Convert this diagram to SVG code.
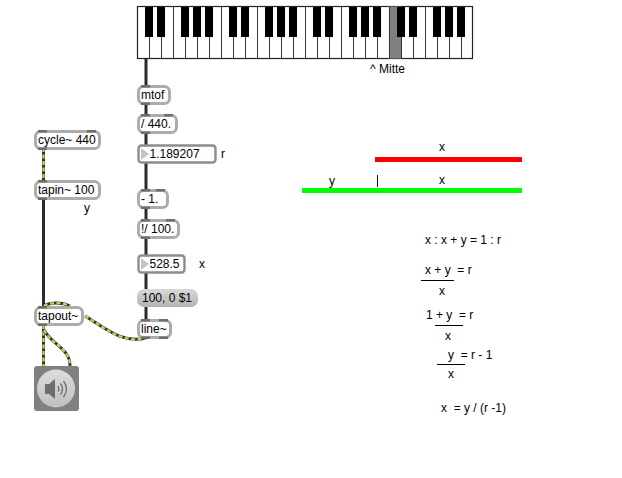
<svg xmlns="http://www.w3.org/2000/svg" width="622" height="478" viewBox="0 0 622 478">
<defs>
<style>
text{font-family:"Liberation Sans",Arial,sans-serif;font-size:12px;fill:#000;white-space:pre}
.box{fill:#fff;stroke:#acacac;stroke-width:3}
.num{fill:#fff;stroke:#8c8c8c;stroke-width:2.4}
.port{fill:#6e6e6e}
.bk{fill:#000}
.ctl{fill:none;stroke:#2b2b2b;stroke-width:3}
.sigb{fill:none;stroke:#2f3a1c;stroke-width:3}
.sigf{fill:none;stroke:#bcd86a;stroke-width:2.2;stroke-dasharray:4 2.5}
.tri{fill:#c4c4c4}
</style>
<linearGradient id="msg" x1="0" y1="0" x2="0" y2="1"><stop offset="0" stop-color="#d8d8d8"/><stop offset="1" stop-color="#b4b4b4"/></linearGradient>
<linearGradient id="disc" x1="0" y1="0" x2="0" y2="1"><stop offset="0" stop-color="#dcdcdc"/><stop offset="1" stop-color="#c0c0c0"/></linearGradient>
</defs>
<rect width="622" height="478" fill="#fff"/>
<g id="connectors">
<path class="ctl" d="M146 58V86M146 104V114M146 132V145M146 162V190M146 208V220M146 238V255M146 272V290M146 306V320"/>
<path class="ctl" d="M43.500 198V308"/>
<path class="sigb" d="M43.500 148V181"/><path class="sigf" d="M43.500 148V181"/>
<path class="sigb" d="M44 306C50 302 62 302 70 306"/><path class="sigf" d="M44 306C50 302 62 302 70 306"/>
<path class="sigb" d="M85 316C105 328 122 344 146 338"/><path class="sigf" d="M85 316C105 328 122 344 146 338"/>
<path class="sigb" d="M43.500 325V366"/><path class="sigf" d="M43.500 325V366"/>
<path class="sigb" d="M44 330C52 345 70 348 70 366"/><path class="sigf" d="M44 330C52 345 70 348 70 366"/>
</g>
<g id="keyboard">
<rect x="137.500" y="6.500" width="335" height="52" fill="#fff" stroke="#222" stroke-width="1.200"/>
<rect x="389" y="6.500" width="12" height="52" fill="#808080"/>
<path d="M149.500 37V58.500M161.500 37V58.500M173.500 7V58.500M185.500 37V58.500M197.500 37V58.500M209.500 37V58.500M221.500 7V58.500M233.500 37V58.500M245.500 37V58.500M257.500 7V58.500M269.500 37V58.500M281.500 37V58.500M293.500 37V58.500M305.500 7V58.500M317.500 37V58.500M329.500 37V58.500M341.500 7V58.500M353.500 37V58.500M365.500 37V58.500M377.500 37V58.500M389.500 7V58.500M401.500 37V58.500M413.500 37V58.500M425.500 7V58.500M437.500 37V58.500M449.500 37V58.500M461.500 37V58.500" stroke="#333" stroke-width="1" fill="none"/>
<path class="bk" d="M145 7h8v30h-8zM157 7h8v30h-8zM181 7h8v30h-8zM193 7h8v30h-8zM205 7h8v30h-8zM229 7h8v30h-8zM241 7h8v30h-8zM265 7h8v30h-8zM277 7h8v30h-8zM289 7h8v30h-8zM313 7h8v30h-8zM325 7h8v30h-8zM349 7h8v30h-8zM361 7h8v30h-8zM373 7h8v30h-8zM397 7h8v30h-8zM409 7h8v30h-8zM433 7h8v30h-8zM445 7h8v30h-8zM457 7h8v30h-8z"/>
</g>
<text x="370" y="73">^ Mitte</text>
<g id="mtof"><rect class="box" x="138.500" y="86.500" width="31" height="17" rx="5"/><path class="port" d="M141 85h9v2.500h-9zM141 102.500h9v2.500h-9z"/><text x="141" y="99">mtof</text></g>
<g id="div440"><rect class="box" x="138.500" y="115.500" width="38" height="17" rx="5"/><path class="port" d="M141 114h9v2.500h-9zM164 114h9v2.500h-9zM141 131.500h9v2.500h-9z"/><text x="141" y="128">/ 440.</text></g>
<g id="num-r"><rect class="num" x="138.500" y="145.500" width="77" height="17" rx="3"/><path class="tri" d="M141 148l8 6-8 6z"/><text x="149.500" y="158">1.189207</text></g>
<text x="221" y="158">r</text>
<g id="minus1"><rect class="box" x="138.500" y="190.500" width="29" height="17" rx="5"/><path class="port" d="M141 189h9v2.500h-9zM156 189h9v2.500h-9zM141 206.500h9v2.500h-9z"/><text x="141" y="203">- 1.</text></g>
<g id="rdiv100"><rect class="box" x="138.500" y="220.500" width="40" height="17" rx="5"/><path class="port" d="M141 219h9v2.500h-9zM166 219h9v2.500h-9zM141 236.500h9v2.500h-9z"/><text x="141" y="233">!/ 100.</text></g>
<g id="num-x"><rect class="num" x="138.500" y="255.500" width="46" height="17" rx="3"/><path class="tri" d="M141 258l8 6-8 6z"/><text x="149.500" y="268">528.5</text></g>
<text x="199" y="268">x</text>
<g id="msg"><rect x="137" y="289" width="61" height="18" rx="7" fill="url(#msg)"/><text x="142" y="302">100, 0 $1</text></g>
<g id="line"><rect class="box" x="138.500" y="320.500" width="32" height="17" rx="5"/><path class="port" d="M141 319h9v2.500h-9zM159 319h9v2.500h-9zM141 336.500h9v2.500h-9zM159 336.500h9v2.500h-9z"/><text x="141" y="333">line~</text></g>
<g id="cycle"><rect class="box" x="35.500" y="131.500" width="64" height="17" rx="5"/><path class="port" d="M38 130h9v2.500h-9zM87 130h9v2.500h-9zM38 147.500h9v2.500h-9z"/><text x="38" y="144">cycle~ 440</text></g>
<g id="tapin"><rect class="box" x="35.500" y="181.500" width="64" height="17" rx="5"/><path class="port" d="M38 180h9v2.500h-9zM38 197.500h9v2.500h-9z"/><text x="38" y="194">tapin~ 100</text></g>
<text x="84" y="212">y</text>
<g id="tapout"><rect class="box" x="35.500" y="307.500" width="47" height="17" rx="5"/><path class="port" d="M38 306h9v2.500h-9zM38 323.500h9v2.500h-9z"/><text x="38" y="320">tapout~</text></g>
<g id="dac"><rect x="34" y="366" width="45" height="45" rx="3" fill="#808080"/><circle cx="56" cy="388.500" r="19" fill="url(#disc)"/><path d="M45 384h4l6-5v20l-6-5h-4z" fill="#6e6e6e"/><path d="M58 386q2 3 0 5.500M60.500 383.500q4 5.500 0 11M63.500 381q6 8 0 16" fill="none" stroke="#6e6e6e" stroke-width="1.300"/></g>
<g id="bars">
<rect x="375" y="157" width="147" height="5" fill="#ff0000"/>
<rect x="302" y="188" width="220" height="5" fill="#00ff00"/>
<rect x="377" y="175" width="1" height="12" fill="#200030"/>
</g>
<text x="439" y="151">x</text><text x="329" y="185">y</text><text x="439" y="184">x</text>
<g id="formula">
<text x="425" y="244">x : x + y = 1 : r</text>
<text x="425" y="274">x + y  = r</text>
<rect x="421" y="280" width="33" height="1" fill="#000"/>
<text x="439" y="295">x</text>
<text x="426" y="319" fill="#000">1</text><text x="436" y="319">+ y  = r</text>
<rect x="435" y="325" width="28" height="1" fill="#000"/>
<text x="445" y="340">x</text>
<text x="448" y="359">y  = r - 1</text>
<rect x="437" y="364" width="28" height="1" fill="#000"/>
<text x="448" y="378">x</text>
<text x="441" y="412">x  = y / (r -1)</text>
</g>
</svg>
